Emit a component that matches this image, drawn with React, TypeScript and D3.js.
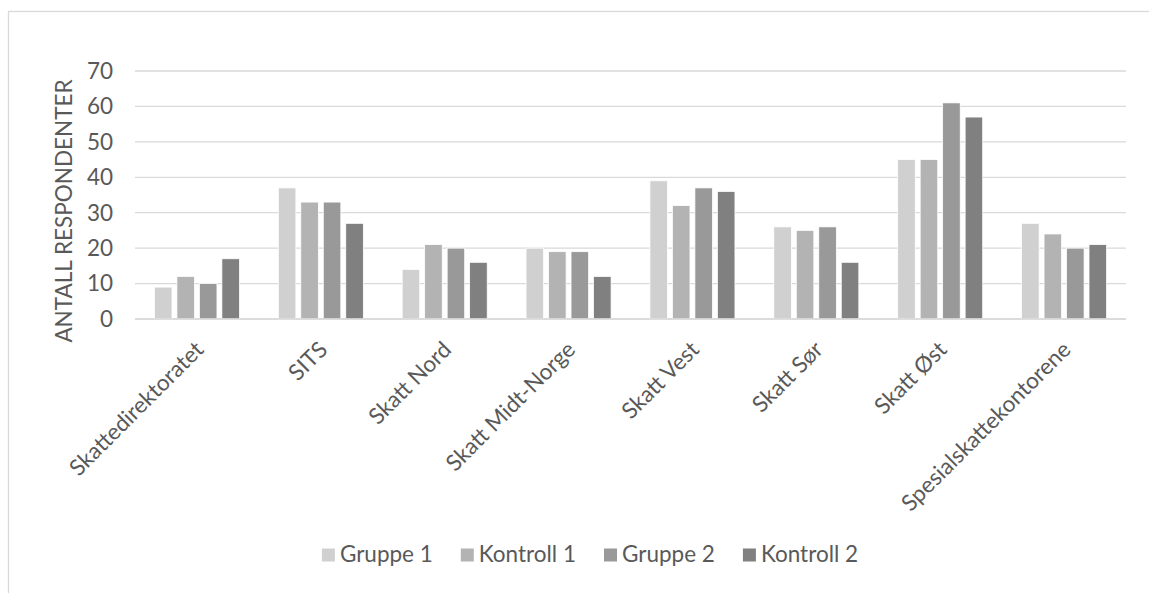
import React, { useEffect, useRef } from "react";
import * as d3 from "d3";

const categories = [
  "Skattedirektoratet",
  "SITS",
  "Skatt Nord",
  "Skatt Midt-Norge",
  "Skatt Vest",
  "Skatt Sør",
  "Skatt Øst",
  "Spesialskattekontorene",
];
const seriesNames = ["Gruppe 1", "Kontroll 1", "Gruppe 2", "Kontroll 2"];
const gruppe1 = [9, 37, 14, 20, 39, 26, 45, 27];
const kontroll1 = [12, 33, 21, 19, 32, 25, 45, 24];
const gruppe2 = [10, 33, 20, 19, 37, 26, 61, 20];
const kontroll2 = [17, 27, 16, 12, 36, 16, 57, 21];
const yTicks = [0, 10, 20, 30, 40, 50, 60, 70];
const yTitle = "ANTALL RESPONDENTER";

const seriesValues = [gruppe1, kontroll1, gruppe2, kontroll2];
const colors = ["#d0d0d0", "#b3b3b3", "#999999", "#808080"];

const W = 1149;
const H = 593;
const FONT = "Lato, 'Open Sans', sans-serif";
const TEXT = "#595959";
const GRID = "#d9d9d9";

export default function App() {
  const ref = useRef<SVGSVGElement | null>(null);

  useEffect(() => {
    const svg = d3.select(ref.current);
    svg.selectAll("*").remove();

    const left = 135;
    const right = 1126;
    const top = 71;
    const bottom = 319;

    // chart border
    svg
      .append("rect")
      .attr("x", 8.5)
      .attr("y", 11.5)
      .attr("width", W + 20)
      .attr("height", H + 20)
      .attr("fill", "#fff")
      .attr("stroke", GRID)
      .attr("stroke-width", 1.3);

    const x = d3.scaleBand<string>().domain(categories).range([left, right]).padding(0);
    const y = d3.scaleLinear().domain([0, 70]).range([bottom, top]);

    const groupW = 85;
    const xs = d3
      .scaleBand<string>()
      .domain(seriesNames)
      .range([(x.bandwidth() - groupW) / 2, (x.bandwidth() + groupW) / 2])
      .paddingInner(0.22)
      .paddingOuter(0);

    // gridlines
    svg
      .append("g")
      .selectAll("line")
      .data(yTicks)
      .join("line")
      .attr("x1", left)
      .attr("x2", right)
      .attr("y1", (d) => y(d))
      .attr("y2", (d) => y(d))
      .attr("stroke", GRID)
      .attr("stroke-width", 1.3);

    // y tick labels
    svg
      .append("g")
      .selectAll("text")
      .data(yTicks)
      .join("text")
      .attr("x", 113)
      .attr("y", (d) => y(d))
      .attr("dy", "0.35em")
      .attr("text-anchor", "end")
      .attr("font-family", FONT)
      .attr("font-size", 22.5)
      .attr("fill", TEXT)
      .text((d) => d);

    // y title
    svg
      .append("text")
      .attr("transform", `translate(72, 211) rotate(-90)`)
      .attr("text-anchor", "middle")
      .attr("font-family", FONT)
      .attr("font-size", 22.5)
      .attr("fill", TEXT)
      .text(yTitle);

    // bars
    const groups = svg
      .append("g")
      .selectAll("g")
      .data(categories)
      .join("g")
      .attr("transform", (c) => `translate(${x(c)},0)`);

    groups
      .selectAll("rect")
      .data((c) => seriesNames.map((s, si) => ({ s, si, v: seriesValues[si][categories.indexOf(c)] })))
      .join("rect")
      .attr("x", (d) => xs(d.s)!)
      .attr("width", xs.bandwidth())
      .attr("y", (d) => y(d.v))
      .attr("height", (d) => y(0) - y(d.v))
      .attr("fill", (d) => colors[d.si])
      .attr("stroke", "#ffffff")
      .attr("stroke-width", 0.75);

    // baseline on top of bars
    svg
      .append("line")
      .attr("x1", left)
      .attr("x2", right)
      .attr("y1", y(0))
      .attr("y2", y(0))
      .attr("stroke", GRID)
      .attr("stroke-width", 1.3);

    // x labels
    svg
      .append("g")
      .selectAll("text")
      .data(categories)
      .join("text")
      .attr("transform", (c) => `translate(${x(c)! + x.bandwidth() / 2 + 8}, 351) rotate(-45)`)
      .attr("text-anchor", "end")
      .attr("font-family", FONT)
      .attr("font-size", 22.5)
      .attr("fill", TEXT)
      .text((c) => c);

    // legend
    const legend = svg.append("g");
    const items = legend.selectAll("g").data(seriesNames).join("g");
    items
      .append("text")
      .attr("font-family", FONT)
      .attr("font-size", 22.5)
      .attr("fill", TEXT)
      .attr("x", 18)
      .attr("y", 561.5)
      .text((d) => d);
    const widths: number[] = [];
    items.select("text").each(function () {
      widths.push((this as SVGTextElement).getComputedTextLength());
    });
    const itemW = widths.map((w) => 18 + w);
    const gap = 28;
    const total = d3.sum(itemW) + gap * (itemW.length - 1);
    let cur = 590 - total / 2;
    const offsets: number[] = [];
    itemW.forEach((w) => {
      offsets.push(cur);
      cur += w + gap;
    });
    items.attr("transform", (_, i) => `translate(${offsets[i]},0)`);
    items
      .append("rect")
      .attr("x", 0)
      .attr("y", 548.5)
      .attr("width", 13)
      .attr("height", 13)
      .attr("fill", (_, i) => colors[i]);
  }, []);

  return (
    <svg
      ref={ref}
      width={W}
      height={H}
      style={{ position: "absolute", left: 0, top: 0, background: "#fff" }}
    />
  );
}
